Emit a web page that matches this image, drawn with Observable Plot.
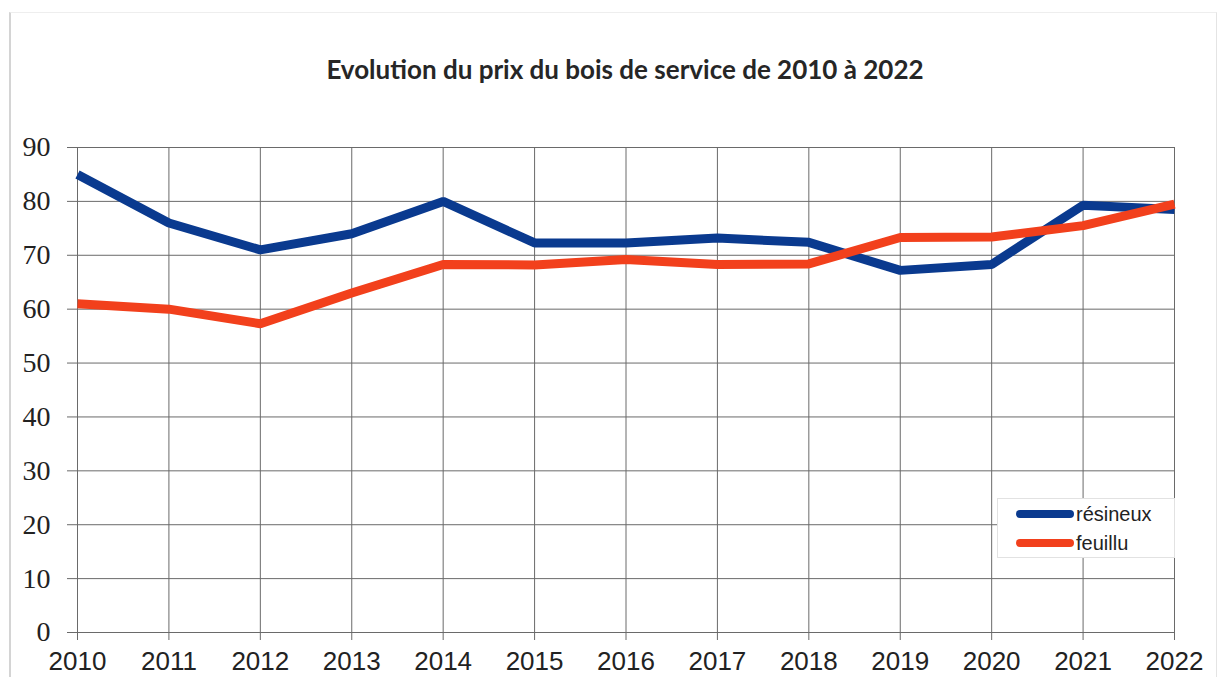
<!DOCTYPE html>
<html>
<head>
<meta charset="utf-8">
<script src="https://cdn.jsdelivr.net/npm/d3@7"></script>
<script src="https://cdn.jsdelivr.net/npm/@observablehq/plot@0.6"></script>
<style>
  html, body { margin: 0; padding: 0; background: #fff; }
  #wrap { position: relative; width: 1217px; height: 677px; overflow: hidden; }
  #frame { position: absolute; left: 9px; top: 12px; width: 1205px; height: 680px;
           border-left: 2px solid #d4d4d4; border-right: 1px solid #e4e4e4; border-top: 1px solid #eeeeee; }
  #title { position: absolute; left: 0; top: 53px; width: 1250px; text-align: center;
           font-family: Lato, "Open Sans", sans-serif; font-weight: 700; font-size: 26px; color: #262626; }
  #chart { position: absolute; left: 0; top: 110px; }
  #legend { position: absolute; left: 997px; top: 498px; width: 176px; height: 58px;
            border: 1px solid #e2e2e2; background: #fff; font-family: "Liberation Sans", Arial, sans-serif;
            font-size: 20px; color: #222; }
  .item { position: absolute; left: 18px; height: 24px; display: flex; align-items: center; }
  .sw { width: 58px; height: 8px; border-radius: 4px; margin-right: 2px; }
</style>
</head>
<body>
<div id="wrap">
  <div id="frame"></div>
  <div id="title"></div>
  <div id="chart"></div>
  <div id="legend"></div>
</div>
<script>
const title = "Evolution du prix du bois de service de 2010 à 2022";
const years = [2010, 2011, 2012, 2013, 2014, 2015, 2016, 2017, 2018, 2019, 2020, 2021, 2022];
const resineux = [85, 76, 71, 74, 80, 72.3, 72.3, 73.2, 72.4, 67.2, 68.3, 79.3, 78.5];
const feuillu = [61, 60, 57.3, 63, 68.3, 68.2, 69.2, 68.3, 68.4, 73.3, 73.4, 75.5, 79.5];
const seriesNames = ["résineux", "feuillu"];
const seriesColors = ["#0a3a8f", "#f2401c"];
const yTicks = [0, 10, 20, 30, 40, 50, 60, 70, 80, 90];

document.getElementById("title").textContent = title;

const rows = [];
years.forEach((y, i) => {
  rows.push({year: y, value: resineux[i], serie: seriesNames[0]});
});
years.forEach((y, i) => {
  rows.push({year: y, value: feuillu[i], serie: seriesNames[1]});
});

const chart = Plot.plot({
  width: 1217,
  height: 567,
  marginLeft: 77,
  marginRight: 43,
  marginTop: 37,
  marginBottom: 45,
  style: {background: "transparent", overflow: "visible"},
  x: {domain: [2010, 2022]},
  y: {domain: [0, 90]},
  color: {domain: seriesNames, range: seriesColors},
  marks: [
    Plot.gridY(yTicks, {stroke: "#6a6a6a", strokeOpacity: 1, strokeWidth: 1}),
    Plot.gridX(years, {stroke: "#6a6a6a", strokeOpacity: 1, strokeWidth: 1}),
    Plot.axisY(yTicks, {tickSize: 10, tickPadding: 17, stroke: "#6a6a6a", fill: "#222",
      fontSize: 28, fontFamily: "Liberation Serif, serif", label: null, tickFormat: d => String(d)}),
    Plot.axisX(years, {tickSize: 8, tickPadding: 11, stroke: "#6a6a6a", fill: "#222",
      fontSize: 26, fontFamily: "Liberation Sans, Arial, sans-serif", label: null, tickFormat: d => String(d)}),
    Plot.line(rows.filter(d => d.serie === seriesNames[0]), {x: "year", y: "value", stroke: "serie",
      strokeWidth: 9, strokeLinejoin: "miter", strokeLinecap: "butt"}),
    Plot.line(rows.filter(d => d.serie === seriesNames[1]), {x: "year", y: "value", stroke: "serie",
      strokeWidth: 9, strokeLinejoin: "miter", strokeLinecap: "butt"})
  ]
});
document.getElementById("chart").appendChild(chart);

const legend = document.getElementById("legend");
seriesNames.forEach((n, i) => {
  const it = document.createElement("div");
  it.className = "item";
  it.style.top = (3 + i * 29) + "px";
  const sw = document.createElement("div");
  sw.className = "sw";
  sw.style.background = seriesColors[i];
  const t = document.createElement("span");
  t.textContent = n;
  it.appendChild(sw);
  it.appendChild(t);
  legend.appendChild(it);
});
</script>
</body>
</html>
